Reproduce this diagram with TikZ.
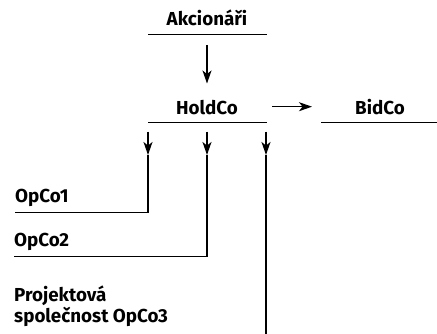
\documentclass[tikz,border=0pt]{standalone}
\usepackage{fontspec}
\setmainfont{Fira Sans}
\usetikzlibrary{arrows.meta}
\begin{document}
\begin{tikzpicture}[x=1pt,y=-1pt,
  lbl/.style={font=\bfseries\fontsize{18.8}{21}\selectfont, inner sep=0pt, anchor=base},
  lblw/.style={lbl, anchor=base west},
  ul/.style={line width=1.2pt},
  arr/.style={line width=1.2pt, -{Stealth[length=13pt,width=9pt,inset=3.5pt]}}]
\useasboundingbox (0,0) rectangle (437,334);
% entities
\node[lbl] (akc) at (207,25.7) {Akcionáři};
\node[lbl] (hold) at (207,114.3) {HoldCo};
\node[lbl] (bid) at (380,114.3) {BidCo};
\node[lblw] (op1) at (15,203) {OpCo1};
\node[lblw] (op2) at (14,246.7) {OpCo2};
\node[lblw] (op3a) at (14,301.7) {Projektová};
\node[lblw] (op3) at (14,323) {společnost OpCo3};
% underlines
\coordinate (akcL) at (148,34.3); \coordinate (akcR) at (266.7,34.3);
\coordinate (holdL) at (148,122.7); \coordinate (holdR) at (266.7,122.7);
\coordinate (bidL) at (321,122.7); \coordinate (bidR) at (437,122.7);
\draw[ul] (akcL) -- (akcR);
\draw[ul] (holdL) -- (holdR);
\draw[ul] (bidL) -- (bidR);
% connectors
\coordinate (a1s) at (207,45); \coordinate (a1e) at (207,83.5);
\draw[arr] (a1s) -- (a1e);
\coordinate (hbs) at (272.3,106.7); \coordinate (hbe) at (312,106.7);
\draw[arr] (hbs) -- (hbe);
% branches
\coordinate (b1s) at (148,131.7); \coordinate (b1t) at (148,155); \coordinate (b1c) at (148,212.3); \coordinate (b1e) at (15,212.3);
\coordinate (b2s) at (207,131.7); \coordinate (b2t) at (207,155); \coordinate (b2c) at (207,256.7); \coordinate (b2e) at (13.5,256.7);
\coordinate (b3s) at (266,131.7); \coordinate (b3t) at (266,155); \coordinate (b3c) at (266,334);
\draw[arr] (b1s) -- (b1t);
\draw[arr] (b2s) -- (b2t);
\draw[arr] (b3s) -- (b3t);
\draw[ul] (b1t) -- (b1c) -- (b1e);
\draw[ul] (b2t) -- (b2c) -- (b2e);
\draw[ul] (b3t) -- (b3c);
\end{tikzpicture}
\end{document}
